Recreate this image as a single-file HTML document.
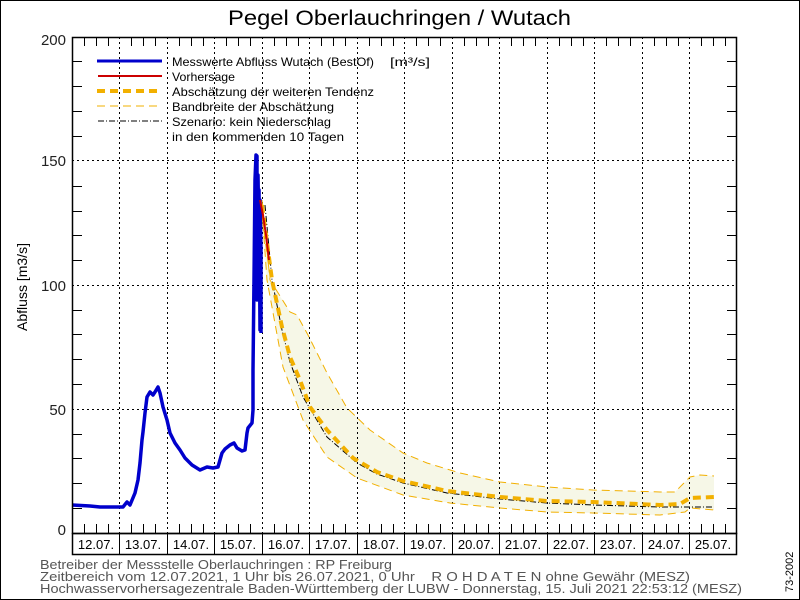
<!DOCTYPE html>
<html><head><meta charset="utf-8"><style>
html,body{margin:0;padding:0;background:#fff}
svg{display:block}
text{font-family:"Liberation Sans",sans-serif;white-space:pre}
</style></head><body>
<svg width="800" height="600" viewBox="0 0 800 600" xmlns="http://www.w3.org/2000/svg">
<rect x="0.5" y="0.5" width="799" height="599" fill="#fff" stroke="#000" stroke-width="1"/>
<text x="228" y="25" font-size="21" fill="#000" textLength="343" lengthAdjust="spacingAndGlyphs">Pegel Oberlauchringen / Wutach</text>

<path d="M262,200 L270,280 L290,312 L297,315 L308,335 L327,373 L347,408 L370,430 L403,453 L427,463 L460,473 L500,482 L547,487 L593,490 L660,492 L675,492 L690,477 L700,475 L714,476 L714,510 L690,508 L685,512 L660,515 L593,513 L547,512 L500,508 L450,503 L403,495 L357,478 L327,457 L303,420 L283,367 L267,280 L262,210 Z" fill="#f6f7e7" stroke="none"/>
<g stroke="#000" stroke-width="1" stroke-dasharray="2,3">
<line x1="72" y1="409.5" x2="737" y2="409.5"/>
<line x1="72" y1="285.5" x2="737" y2="285.5"/>
<line x1="72" y1="160.5" x2="737" y2="160.5"/>
<line x1="119.5" y1="37" x2="119.5" y2="533"/>
<line x1="167.5" y1="37" x2="167.5" y2="533"/>
<line x1="214.5" y1="37" x2="214.5" y2="533"/>
<line x1="262.5" y1="37" x2="262.5" y2="533"/>
<line x1="309.5" y1="37" x2="309.5" y2="533"/>
<line x1="357.5" y1="37" x2="357.5" y2="533"/>
<line x1="404.5" y1="37" x2="404.5" y2="533"/>
<line x1="452.5" y1="37" x2="452.5" y2="533"/>
<line x1="499.5" y1="37" x2="499.5" y2="533"/>
<line x1="547.5" y1="37" x2="547.5" y2="533"/>
<line x1="594.5" y1="37" x2="594.5" y2="533"/>
<line x1="642.5" y1="37" x2="642.5" y2="533"/>
<line x1="689.5" y1="37" x2="689.5" y2="533"/>
</g>
<g fill="none" stroke="#f2b000" stroke-width="1" stroke-dasharray="8,5">
<path d="M262,200 L270,280 L290,312 L297,315 L308,335 L327,373 L347,408 L370,430 L403,453 L427,463 L460,473 L500,482 L547,487 L593,490 L660,492 L675,492 L690,477 L700,475 L714,476"/>
<path d="M262,210 L267,280 L283,367 L303,420 L327,457 L357,478 L403,495 L450,503 L500,508 L547,512 L593,513 L660,515 L685,512 L690,508 L714,510"/>
</g>
<path d="M265,205 L272,280 L282,330 L290,362 L303,397 L327,437 L357,463 L377,474 L403,483 L447,493 L500,499 L547,503 L593,505 L660,507 L714,507" fill="none" stroke="#000" stroke-width="1" stroke-dasharray="6,2,1,2"/>
<path d="M262,205 L272,280 L282,327 L290,357 L300,380 L310,407 L327,430 L353,458 L377,472 L403,481 L447,491 L500,497 L547,501 L593,502 L660,505 L680,504 L690,498 L714,497" fill="none" stroke="#f2b000" stroke-width="4" stroke-dasharray="8,5"/>
<path d="M72,505 L90,506 L100,507 L110,507 L123,507 L127,502 L130,505 L135,493 L138,480 L140,463 L142,440 L143,432 L145,413 L147,397 L150,392 L153,395 L155,392 L158,387 L160,393 L163,407 L167,420 L170,433 L175,443 L180,450 L185,458 L192,465 L200,470 L207,467 L213,468 L218,467 L222,453 L225,449 L230,445 L234,443 L237,448 L242,451 L245,450 L247,433 L248,428 L252,423 L253,410 L253,370 L254,280 L255,180 L256,155 L257,156 L257,300 L258,175 L259,240 L259,190 L260,330 L260,200 L261,250 L261,333" fill="none" stroke="#0000cc" stroke-width="3.5" stroke-linejoin="round"/>
<path d="M260,200 L263,215 L266,235 L269,260" fill="none" stroke="#cc0000" stroke-width="2"/>

<rect x="72.5" y="37.5" width="664" height="496" fill="none" stroke="#000" stroke-width="1.5"/>
<rect x="72.5" y="533.5" width="664" height="21" fill="none" stroke="#000" stroke-width="1.5"/>
<g stroke="#000" stroke-width="1">
<line x1="119.5" y1="533" x2="119.5" y2="554"/><line x1="167.5" y1="533" x2="167.5" y2="554"/><line x1="214.5" y1="533" x2="214.5" y2="554"/><line x1="262.5" y1="533" x2="262.5" y2="554"/><line x1="309.5" y1="533" x2="309.5" y2="554"/><line x1="357.5" y1="533" x2="357.5" y2="554"/><line x1="404.5" y1="533" x2="404.5" y2="554"/><line x1="452.5" y1="533" x2="452.5" y2="554"/><line x1="499.5" y1="533" x2="499.5" y2="554"/><line x1="547.5" y1="533" x2="547.5" y2="554"/><line x1="594.5" y1="533" x2="594.5" y2="554"/><line x1="642.5" y1="533" x2="642.5" y2="554"/><line x1="689.5" y1="533" x2="689.5" y2="554"/>
</g>
<g font-size="13" fill="#000" text-anchor="middle">
<text x="96" y="549">12.07.</text><text x="143" y="549">13.07.</text><text x="191" y="549">14.07.</text><text x="238" y="549">15.07.</text><text x="286" y="549">16.07.</text><text x="333" y="549">17.07.</text><text x="381" y="549">18.07.</text><text x="428" y="549">19.07.</text><text x="476" y="549">20.07.</text><text x="523" y="549">21.07.</text><text x="571" y="549">22.07.</text><text x="618" y="549">23.07.</text><text x="666" y="549">24.07.</text><text x="713" y="549">25.07.</text>
</g>
<g font-size="15" fill="#222" text-anchor="end">
<text x="66" y="45">200</text><text x="66" y="166">150</text><text x="66" y="291">100</text><text x="66" y="415">50</text><text x="66" y="535">0</text>
</g>
<text transform="translate(27,287) rotate(-90)" font-size="14" fill="#000" text-anchor="middle">Abfluss [m3/s]</text>

<line x1="97" y1="61" x2="162" y2="61" stroke="#0000cc" stroke-width="3"/>
<line x1="98" y1="76" x2="162" y2="76" stroke="#cc0000" stroke-width="2"/>
<line x1="97" y1="91" x2="162" y2="91" stroke="#f2b000" stroke-width="4" stroke-dasharray="8,5"/>
<line x1="97" y1="106" x2="162" y2="106" stroke="#f2b000" stroke-width="1" stroke-dasharray="8,5"/>
<line x1="98" y1="121" x2="162" y2="121" stroke="#000" stroke-width="1" stroke-dasharray="6,2,1,2"/>
<g font-size="12" fill="#000" lengthAdjust="spacingAndGlyphs">
<text x="172" y="66" textLength="202" lengthAdjust="spacingAndGlyphs">Messwerte Abfluss Wutach (BestOf)</text>
<text x="390" y="66" textLength="40" lengthAdjust="spacingAndGlyphs">[m³/s]</text>
<text x="172" y="81" textLength="63" lengthAdjust="spacingAndGlyphs">Vorhersage</text>
<text x="172" y="96" textLength="202" lengthAdjust="spacingAndGlyphs">Abschätzung der weiteren Tendenz</text>
<text x="172" y="111" textLength="162" lengthAdjust="spacingAndGlyphs">Bandbreite der Abschätzung</text>
<text x="172" y="126" textLength="159" lengthAdjust="spacingAndGlyphs">Szenario: kein Niederschlag</text>
<text x="172" y="141" textLength="172" lengthAdjust="spacingAndGlyphs">in den kommenden 10 Tagen</text>
</g>

<g font-size="12.5" fill="#555">
<text x="40" y="569" textLength="352" lengthAdjust="spacingAndGlyphs">Betreiber der Messstelle Oberlauchringen : RP Freiburg</text>
<text x="40" y="581" textLength="650" lengthAdjust="spacingAndGlyphs">Zeitbereich vom 12.07.2021, 1 Uhr bis 26.07.2021, 0 Uhr    R O H D A T E N ohne Gewähr (MESZ)</text>
<text x="40" y="593" textLength="702" lengthAdjust="spacingAndGlyphs">Hochwasservorhersagezentrale Baden-Württemberg der LUBW - Donnerstag, 15. Juli 2021 22:53:12 (MESZ)</text>
</g>
<text transform="translate(793,592) rotate(-90)" font-size="11" fill="#000">73-2002</text>

<g stroke="#000" stroke-width="1">
<path d="M72,508.5h10M72,483.5h10M72,458.5h10M72,434.5h10M72,384.5h10M72,359.5h10M72,334.5h10M72,310.5h10M72,260.5h10M72,235.5h10M72,211.5h10M72,186.5h10M72,136.5h10M72,111.5h10M72,86.5h10M72,61.5h10"/>
<path d="M737,508.5h-10M737,483.5h-10M737,458.5h-10M737,434.5h-10M737,384.5h-10M737,359.5h-10M737,334.5h-10M737,310.5h-10M737,260.5h-10M737,235.5h-10M737,211.5h-10M737,186.5h-10M737,136.5h-10M737,111.5h-10M737,86.5h-10M737,61.5h-10"/>
<path id="tb" d=""/>
</g>
<script>
(function(){var d="";for(var i=0;i<56;i++){if(i%4==0)continue;var x=72+i*47.5/4;x=Math.round(x)+0.5;d+="M"+x+",533v-9M"+x+",37v9";}
document.getElementById("tb").setAttribute("d",d);})();
</script>
</svg>
</body></html>
